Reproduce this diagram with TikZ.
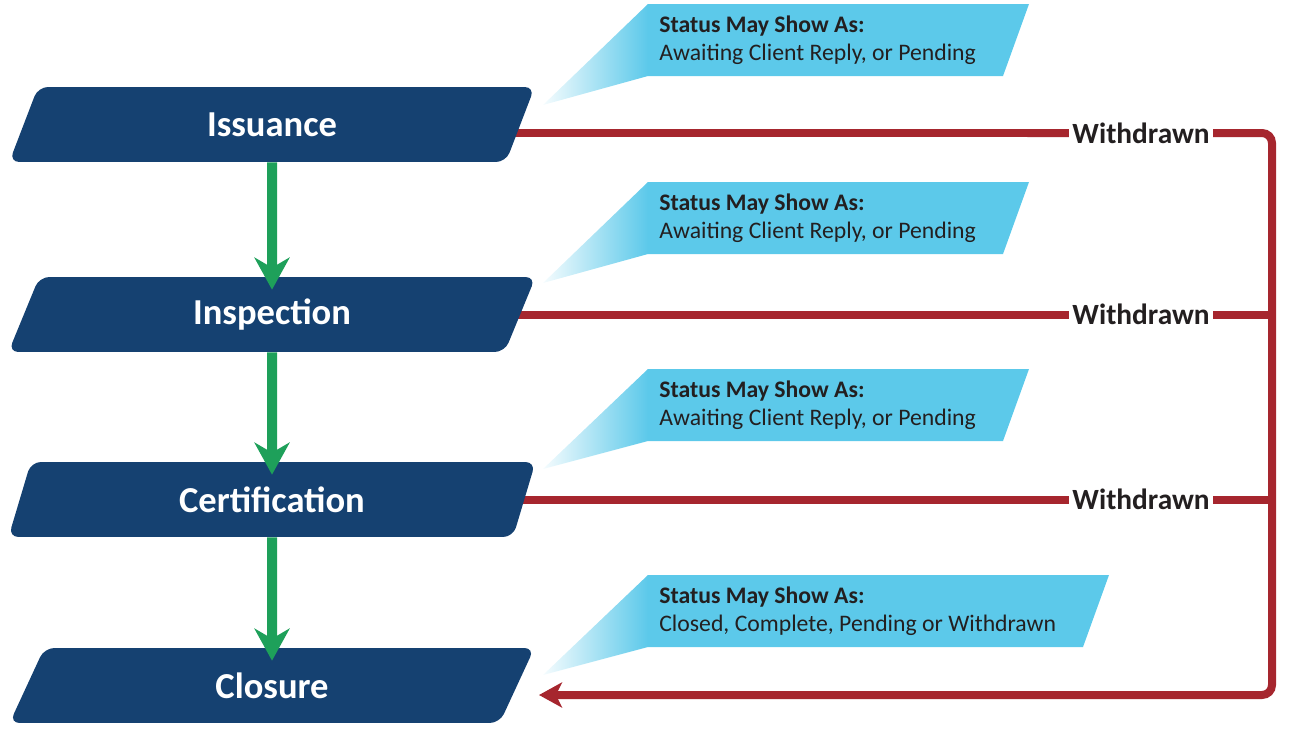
\documentclass[tikz,border=0pt]{standalone}
\usepackage{fontspec}
\setmainfont{Carlito}
\usetikzlibrary{shapes.geometric,arrows.meta,backgrounds}
\definecolor{boxblue}{RGB}{21,65,113}
\definecolor{statuscyan}{RGB}{92,201,234}
\definecolor{withdrawred}{RGB}{166,38,46}
\definecolor{flowgreen}{RGB}{30,160,90}
\definecolor{inkdark}{RGB}{35,31,32}
\begin{document}
\begin{tikzpicture}[x=0.02cm,y=-0.02cm]
    \tikzstyle{stage}=[trapezium,trapezium left angle=71.6,trapezium right angle=108.4,trapezium stretches=true,fill=boxblue,rounded corners=0.2cm,minimum width=10.56cm,minimum height=1.5cm,inner sep=0pt,text=white,font=\fontsize{20.8}{24}\selectfont\bfseries];
    \tikzstyle{callout}=[fill=statuscyan];
    \tikzstyle{status}=[anchor=west,align=left,inner sep=0pt,text=inkdark,font=\fontsize{13.5}{15.9}\selectfont];
    \tikzstyle{wedge}=[left color=statuscyan!6,right color=statuscyan];
    \tikzstyle{flow}=[color=flowgreen,line width=0.2cm,-{Stealth[length=0.64cm,width=0.7cm,inset=0.2cm]}];
    \tikzstyle{withdraw}=[color=withdrawred,line width=0.16cm,rounded corners=0.2cm];
    \tikzstyle{wlabel}=[fill=white,inner xsep=0.07cm,inner ysep=0pt,text=inkdark,font=\fontsize{16.7}{20}\selectfont\bfseries];

    \useasboundingbox (0,0) rectangle (1289,730);

    % stages
    \node[stage] (issue) at (272,124.5) {Issuance};
    \node[stage] (insp) at (272,314.5) {Inspection};
    \node[stage] (cert) at (272,499.5) {Certification};
    \node[stage] (close) at (272,685.5) {Closure};

    % status callouts
    \shade[wedge] (648,4) -- (543,105) -- (648,76) -- cycle;
    \fill[callout] (648,4) -- (1029,4) -- (1003,76) -- (648,76) -- cycle;
    \node[status] (txt1) at (659,40) {\textbf{Status May Show As:}\\Awaiting Client Reply, or Pending};

    \shade[wedge] (648,182) -- (543,283) -- (648,254) -- cycle;
    \fill[callout] (648,182) -- (1029,182) -- (1003,254) -- (648,254) -- cycle;
    \node[status] (txt2) at (659,218) {\textbf{Status May Show As:}\\Awaiting Client Reply, or Pending};

    \shade[wedge] (648,369) -- (543,469) -- (648,441) -- cycle;
    \fill[callout] (648,369) -- (1029,369) -- (1003,441) -- (648,441) -- cycle;
    \node[status] (txt3) at (659,405) {\textbf{Status May Show As:}\\Awaiting Client Reply, or Pending};

    \shade[wedge] (648,575) -- (543,675) -- (648,647) -- cycle;
    \fill[callout] (648,575) -- (1109,575) -- (1083,647) -- (648,647) -- cycle;
    \node[status] (txt4) at (659,611) {\textbf{Status May Show As:}\\Closed, Complete, Pending or Withdrawn};

    % withdrawn return line
    \coordinate (jtop) at (1272,133);
    \coordinate (jbot) at (1272,695);
    \coordinate (back) at (539,695);
    \begin{pgfonlayer}{background}
        \draw[withdraw,-{Stealth[length=0.46cm,width=0.5cm,inset=0.12cm]}] ([yshift=-0.17cm]issue.center) -- (jtop) -- (jbot) -- (back);
        \draw[withdraw] (insp.center) -- (insp.center -| jtop);
        \draw[withdraw] (cert.center) -- (cert.center -| jtop);
    \end{pgfonlayer}
    \node[wlabel] (w1) at (1141,133) {Withdrawn};
    \node[wlabel] (w2) at (1141,314.5) {Withdrawn};
    \node[wlabel] (w3) at (1141,499.5) {Withdrawn};

    % flow arrows
    \draw[flow] (issue.south) -- ([yshift=-0.26cm]insp.north);
    \draw[flow] (insp.south) -- ([yshift=-0.26cm]cert.north);
    \draw[flow] (cert.south) -- ([yshift=-0.26cm]close.north);
\end{tikzpicture}
\end{document}
